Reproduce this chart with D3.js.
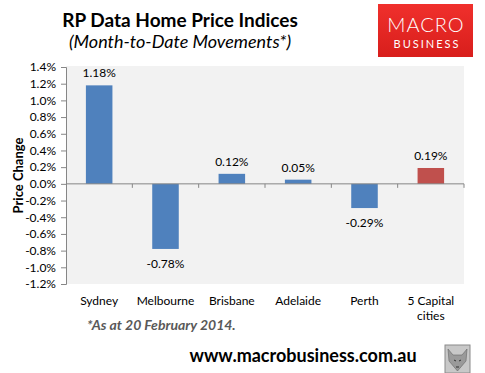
<!DOCTYPE html>
<html>
<head>
<meta charset="utf-8">
<script src="https://cdn.jsdelivr.net/npm/d3@7"></script>
<style>
  body { margin: 0; background: #fff; }
  svg text { font-family: Lato, "Open Sans", sans-serif; }
</style>
</head>
<body>
<div id="chart"></div>
<script>
// chart data
var cities   = ["Sydney", "Melbourne", "Brisbane", "Adelaide", "Perth", "5 Capital cities"];
var changes  = [1.18, -0.78, 0.12, 0.05, -0.29, 0.19];
var yTicks   = [1.4, 1.2, 1.0, 0.8, 0.6, 0.4, 0.2, 0.0, -0.2, -0.4, -0.6, -0.8, -1.0, -1.2];

var W = 485, H = 373;
var plot = {left: 66, right: 464, top: 67, bottom: 284};

var svg = d3.select("#chart").append("svg")
    .attr("width", W)
    .attr("height", H);

// titles
svg.append("text")
    .attr("x", 180).attr("y", 27)
    .attr("text-anchor", "middle")
    .style("font-size", "19px").style("font-weight", "bold")
    .text("RP Data Home Price Indices");
svg.append("text")
    .attr("x", 180).attr("y", 48)
    .attr("text-anchor", "middle")
    .style("font-size", "18px").style("font-style", "italic")
    .text("(Month-to-Date Movements*)");

// logo
var logo = svg.append("g");
var grad = svg.append("defs").append("linearGradient")
    .attr("id", "logoGrad").attr("x1", "0%").attr("y1", "0%").attr("x2", "0%").attr("y2", "100%");
grad.append("stop").attr("offset", "0%").attr("stop-color", "#f0302c");
grad.append("stop").attr("offset", "100%").attr("stop-color", "#d81e1c");
logo.append("rect")
    .attr("x", 378).attr("y", 4).attr("width", 95).attr("height", 53)
    .attr("fill", "url(#logoGrad)");
logo.append("text")
    .attr("x", 426).attr("y", 32).attr("text-anchor", "middle")
    .attr("fill", "#fff")
    .style("font-weight", "300")
    .style("font-size", "20px").style("letter-spacing", "1px")
    .text("MACRO");
logo.append("text")
    .attr("x", 427).attr("y", 48).attr("text-anchor", "middle")
    .attr("fill", "#fff")
    .style("font-size", "11px").style("letter-spacing", "2px")
    .text("BUSINESS");

// scales
var x = d3.scaleBand()
    .domain(cities)
    .range([plot.left, plot.right])
    .paddingInner(0.6)
    .paddingOuter(0.3);

var xCat = d3.scaleBand()
    .domain(cities)
    .range([plot.left, plot.right]);

var y = d3.scaleLinear()
    .domain([-1.2, 1.4])
    .range([plot.bottom, plot.top]);

// plot background
svg.append("rect")
    .attr("x", plot.left).attr("y", plot.top - 1)
    .attr("width", plot.right - plot.left)
    .attr("height", plot.bottom - plot.top + 1)
    .attr("fill", "#f2f2f2");

// y axis
var yAxis = d3.axisLeft(y)
    .tickValues(yTicks)
    .tickSize(5)
    .tickFormat(function(d) { return d.toFixed(1) + "%"; });

var gy = svg.append("g")
    .attr("transform", "translate(" + plot.left + ",0)")
    .call(yAxis);
gy.select(".domain").attr("stroke", "#868686");
gy.selectAll(".tick line").attr("stroke", "#868686");
gy.selectAll(".tick text")
    .attr("x", -10)
    .style("font-size", "12px")
    .style("fill", "#000");

svg.append("text")
    .attr("transform", "translate(23," + ((plot.top + plot.bottom) / 2) + ") rotate(-90)")
    .attr("text-anchor", "middle")
    .style("font-size", "13px").style("font-weight", "bold")
    .text("Price Change");

// bars
svg.selectAll(".bar")
    .data(changes)
    .enter().append("rect")
    .attr("class", "bar")
    .attr("x", function(d, i) { return x(cities[i]); })
    .attr("y", function(d) { return y(Math.max(0, d)); })
    .attr("width", x.bandwidth())
    .attr("height", function(d) { return Math.abs(y(d) - y(0)); })
    .attr("fill", function(d, i) { return i == cities.length - 1 ? "#c0504d" : "#4f81bd"; });

// value labels
svg.selectAll(".val")
    .data(changes)
    .enter().append("text")
    .attr("class", "val")
    .attr("x", function(d, i) { return x(cities[i]) + x.bandwidth() / 2; })
    .attr("y", function(d) { return d >= 0 ? y(d) - 8 : y(d) + 19; })
    .attr("text-anchor", "middle")
    .style("font-size", "12px")
    .text(function(d) { return d.toFixed(2) + "%"; });

// zero line with category ticks
svg.append("line")
    .attr("x1", plot.left).attr("x2", plot.right)
    .attr("y1", y(0)).attr("y2", y(0))
    .attr("stroke", "#868686");

svg.selectAll(".cat-tick")
    .data(cities)
    .enter().append("line")
    .attr("class", "cat-tick")
    .attr("x1", function(d) { return xCat(d) + xCat.bandwidth(); })
    .attr("x2", function(d) { return xCat(d) + xCat.bandwidth(); })
    .attr("y1", y(0)).attr("y2", y(0) + 4)
    .attr("stroke", "#868686");

// category labels
var catLabels = svg.selectAll(".cat")
    .data(cities)
    .enter().append("text")
    .attr("class", "cat")
    .attr("x", function(d) { return xCat(d) + xCat.bandwidth() / 2; })
    .attr("y", 305)
    .attr("text-anchor", "middle")
    .style("font-size", "12px");

catLabels.each(function(d) {
    var t = d3.select(this);
    if (d == "5 Capital cities") {
        t.append("tspan").attr("x", t.attr("x")).attr("dy", 0).text("5 Capital");
        t.append("tspan").attr("x", t.attr("x")).attr("dy", 15).text("cities");
    } else {
        t.text(d);
    }
});

// footnote
svg.append("text")
    .attr("x", 87).attr("y", 330)
    .style("font-size", "14px").style("font-weight", "bold").style("font-style", "italic")
    .style("fill", "#595959")
    .text("*As at 20 February 2014.");

// web address
svg.append("text")
    .attr("x", 303).attr("y", 362)
    .attr("text-anchor", "middle")
    .style("font-size", "18px").style("font-weight", "bold")
    .text("www.macrobusiness.com.au");

// wolf badge
var badge = svg.append("g").attr("transform", "translate(445,345)");
badge.append("rect")
    .attr("width", 25).attr("height", 28)
    .attr("fill", "#c8c8c8").attr("stroke", "#8a8a8a");
badge.append("path")
    .attr("d", "M3,4 L8,10 L17,10 L22,4 L21,16 L12.5,26 L4,16 Z")
    .attr("fill", "#9a9a9a").attr("stroke", "#666").attr("stroke-width", 0.6);
badge.append("path")
    .attr("d", "M9,15 L11,16 M16,15 L14,16 M11,22 L14,22")
    .attr("stroke", "#333").attr("stroke-width", 1);
</script>
</body>
</html>
